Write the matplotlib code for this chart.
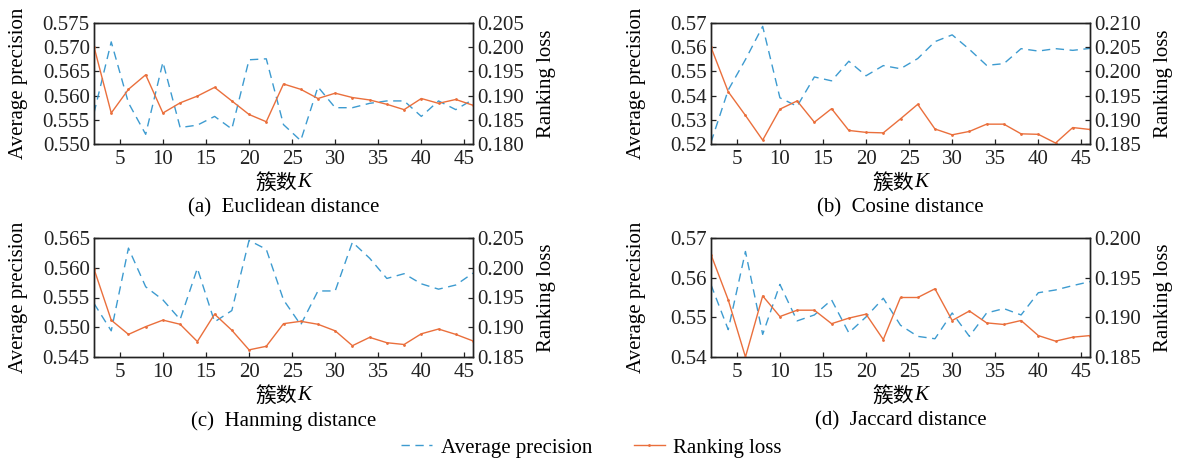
import numpy as np
import matplotlib
matplotlib.use("Agg")
import matplotlib.pyplot as plt
from matplotlib.ticker import FormatStrFormatter
from matplotlib.lines import Line2D

plt.rcParams["font.family"] = ["Liberation Serif", "Noto Sans CJK SC"]

K = np.arange(2, 47, 2)

# Euclidean
ap_euc = [0.5564, 0.5711, 0.5585, 0.5520, 0.5669, 0.5534, 0.5539, 0.5557, 0.5531, 0.5674, 0.5676, 0.5540,
          0.5507, 0.5618, 0.5575, 0.5575, 0.5584, 0.5589, 0.5589, 0.5557, 0.5589, 0.5571, 0.5592]
rl_euc = [0.2001, 0.1864, 0.1913, 0.1943, 0.1864, 0.1885, 0.1899, 0.1917, 0.1889, 0.1861, 0.1846, 0.1924,
          0.1913, 0.1894, 0.1905, 0.1896, 0.1891, 0.1882, 0.1871, 0.1894, 0.1884, 0.1892, 0.1880]
# Cosine
ap_cos = [0.5207, 0.5423, 0.5549, 0.5686, 0.5391, 0.5356, 0.5477, 0.5461, 0.5542, 0.5482, 0.5524, 0.5511,
          0.5553, 0.5623, 0.5651, 0.5591, 0.5525, 0.5532, 0.5594, 0.5584, 0.5594, 0.5587, 0.5595]
rl_cos = [0.2050, 0.1958, 0.1909, 0.1858, 0.1922, 0.1939, 0.1895, 0.1923, 0.1878, 0.1874, 0.1873, 0.1902,
          0.1932, 0.1881, 0.1869, 0.1876, 0.1891, 0.1891, 0.1871, 0.1870, 0.1852, 0.1884, 0.1880]
# Hanming
ap_ham = [0.5540, 0.5494, 0.5633, 0.5568, 0.5546, 0.5513, 0.5599, 0.5509, 0.5528, 0.5646, 0.5631, 0.5546,
          0.5504, 0.5561, 0.5561, 0.5643, 0.5616, 0.5582, 0.5590, 0.5573, 0.5564, 0.5571, 0.5591]
rl_ham = [0.1998, 0.1912, 0.1888, 0.1901, 0.1912, 0.1905, 0.1876, 0.1922, 0.1895, 0.1862, 0.1868, 0.1906,
          0.1910, 0.1905, 0.1894, 0.1869, 0.1883, 0.1874, 0.1871, 0.1889, 0.1897, 0.1888, 0.1877]
# Jaccard
ap_jac = [0.5582, 0.5469, 0.5666, 0.5457, 0.5583, 0.5491, 0.5506, 0.5544, 0.5461, 0.5501, 0.5548, 0.5480,
          0.5452, 0.5446, 0.5511, 0.5452, 0.5511, 0.5522, 0.5506, 0.5562, 0.5569, 0.5580, 0.5590]
rl_jac = [0.1979, 0.1922, 0.1850, 0.1927, 0.1901, 0.1909, 0.1909, 0.1892, 0.1899, 0.1904, 0.1872, 0.1925,
          0.1925, 0.1936, 0.1896, 0.1908, 0.1893, 0.1891, 0.1896, 0.1877, 0.1870, 0.1875, 0.1877]

panels = [
    ("(a)  Euclidean distance", ap_euc, rl_euc, (0.550, 0.575, 0.005), (0.180, 0.205, 0.005), "%.3f"),
    ("(b)  Cosine distance", ap_cos, rl_cos, (0.52, 0.57, 0.01), (0.185, 0.210, 0.005), "%.2f"),
    ("(c)  Hanming distance", ap_ham, rl_ham, (0.545, 0.565, 0.005), (0.185, 0.205, 0.005), "%.3f"),
    ("(d)  Jaccard distance", ap_jac, rl_jac, (0.54, 0.57, 0.01), (0.185, 0.200, 0.005), "%.2f"),
]

BLUE = "#3d9bd0"
ORANGE = "#ea6f3c"
FS = 15

W, H = 1178, 459
fig = plt.figure(figsize=(W / 100, H / 100), dpi=100)

# axes boxes in pixels: left, right, top, bottom
boxes = [(94, 473, 23, 144), (711, 1090, 23, 144), (94, 473, 238, 357), (711, 1090, 238, 357)]

for (caption, ap, rl, lrange, rrange, lfmt), (l, r, t, b) in zip(panels, boxes):
    ax = fig.add_axes([l / W, 1 - b / H, (r - l) / W, (b - t) / H])
    ax2 = ax.twinx()
    ax.plot(K, ap, color=BLUE, lw=1.0, ls=(0, (6, 4)))
    ax2.plot(K, rl, color=ORANGE, lw=1.0, marker=".", ms=2)

    ax.set_xlim(2, 46)
    ax.set_xticks(np.arange(5, 46, 5))
    ax.set_ylim(lrange[0], lrange[1])
    ax.set_yticks(np.arange(lrange[0], lrange[1] + lrange[2] / 2, lrange[2]))
    ax.yaxis.set_major_formatter(FormatStrFormatter(lfmt))
    ax2.set_ylim(rrange[0], rrange[1])
    ax2.set_yticks(np.arange(rrange[0], rrange[1] + rrange[2] / 2, rrange[2]))
    ax2.yaxis.set_major_formatter(FormatStrFormatter("%.3f"))

    for a in (ax, ax2):
        a.tick_params(direction="in", length=3.5, width=0.9, labelsize=FS, pad=3, colors="#222222")
        for s in a.spines.values():
            s.set_linewidth(1.0)
            s.set_color("#222222")
    ax.tick_params(axis="x", pad=4)

    ax.annotate("Average precision", xy=(0, 0.5), xycoords="axes fraction", xytext=(-54, 0),
                textcoords="offset points", rotation=90, ha="center", va="center", fontsize=FS)
    ax2.annotate("Ranking loss", xy=(1, 0.5), xycoords="axes fraction", xytext=(53, 0),
                 textcoords="offset points", rotation=90, ha="center", va="center", fontsize=FS)
    # x label: Chinese part plus italic K
    ax.annotate("簇数", xy=(0.5, 0), xycoords="axes fraction", xytext=(10, -28),
                textcoords="offset points", ha="right", va="center", fontsize=FS,
                family=["Noto Sans CJK SC"])
    ax.annotate("K", xy=(0.5, 0), xycoords="axes fraction", xytext=(10, -28),
                textcoords="offset points", ha="left", va="center", fontsize=FS, style="italic")
    ax.annotate(caption, xy=(0.5, 0), xycoords="axes fraction", xytext=(0, -46),
                textcoords="offset points", ha="center", va="center", fontsize=FS)

handles = [Line2D([], [], color=BLUE, lw=1.0, ls=(0, (6, 4))),
           Line2D([], [], color=ORANGE, lw=1.0, marker=".", ms=2, markevery=[1])]
fig.legend(handles, ["Average precision", "Ranking loss"], loc="center", bbox_to_anchor=(0.502, 0.024),
           ncol=2, frameon=False, fontsize=FS, handlelength=1.5, handletextpad=0.4, columnspacing=2.0)

fig.savefig("out.png", dpi=100)
